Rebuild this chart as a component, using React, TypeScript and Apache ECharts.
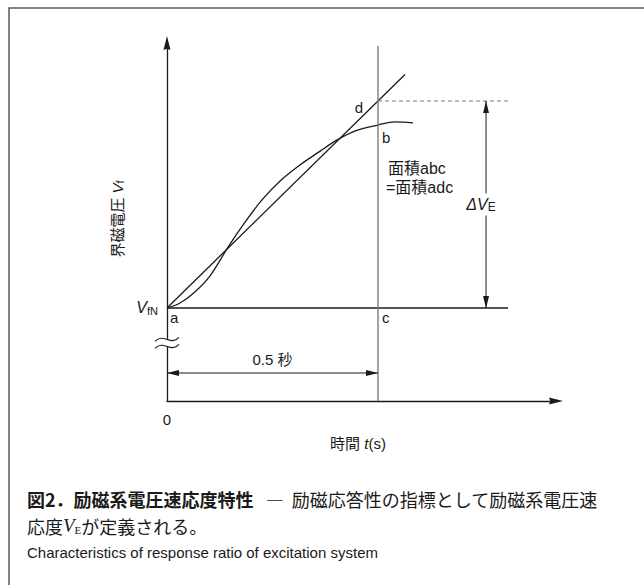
import React, { useEffect, useRef } from "react";
import * as echarts from "echarts";

const W = 644;
const H = 585;

// ---- values (t in s, Vf in per unit of the rated field voltage) ----
const T_RESPONSE = 0.5;
const V_FN = 1.0;
const DELTA_VE = 1.0;

// actual field-voltage response after a step command
const RESPONSE_T = [0, 0.031, 0.066, 0.102, 0.145, 0.185, 0.225, 0.268, 0.315, 0.363, 0.403, 0.445, 0.5, 0.54, 0.583];
const RESPONSE_V = [1.0, 1.024, 1.077, 1.155, 1.295, 1.415, 1.522, 1.614, 1.691, 1.758, 1.812, 1.855, 1.884, 1.899, 1.894];

// equivalent straight ramp a→d, drawn a little past d
const RAMP_T = [0, 0.564];
const RAMP_V = [1.0, 2.128];

const REF_LINE_END_T = 0.808; // end of the Vf N line and of the dashed level of d
const DIM_T = 0.756; // ΔVE dimension
const DIM_V = 0.686; // 0.5 s dimension
const AXIS_BREAK_V = 0.831;
const MARKER_TOP_V = 2.266;

const X_MAX = 0.9218;
const Y_MIN = 0.5507;
const Y_MAX = 2.2802;

// ---- styles ----
const INK = "#1a1a1a";
const GREY = "#7d7d7d";
const SANS = '"Liberation Sans", Arial, "Noto Sans CJK JP", sans-serif';
const CJK = '"Noto Sans CJK JP", sans-serif';
const SERIF = '"Liberation Serif", "DejaVu Serif", serif';
const ARROW = "path://M4,0 L8,16 L4,14.5 L0,16 Z";

const ctx2d = document.createElement("canvas").getContext("2d") as CanvasRenderingContext2D;
function textWidth(text: string, font: string): number {
  ctx2d.font = font;
  return ctx2d.measureText(text).width;
}

function txt(x: number, y: number, text: string, font: string, align = "left", fill = INK): any {
  return {
    type: "text",
    x,
    y,
    z: 100,
    style: {
      text,
      font,
      fill,
      align,
      verticalAlign: "middle",
      textAlign: align,
      textVerticalAlign: "middle",
    },
  };
}

// a run of text pieces laid out left to right; dy shifts a piece down (subscripts)
type Piece = { text: string; font: string; dy?: number };
function run(x: number, y: number, pieces: Piece[], align: "left" | "right" | "center" = "left"): any[] {
  const widths = pieces.map((p) => textWidth(p.text, p.font));
  const total = widths.reduce((a, b) => a + b, 0);
  let cx = align === "left" ? x : align === "right" ? x - total : x - total / 2;
  const out: any[] = [];
  pieces.forEach((p, i) => {
    out.push(txt(cx, y + (p.dy || 0), p.text, p.font));
    cx += widths[i];
  });
  return out;
}

function dimArrow(from: number[], to: number[], rotFrom: number, rotTo: number, offFrom: number[], offTo: number[]) {
  return {
    type: "line",
    data: [
      { value: from, symbolRotate: rotFrom, symbolOffset: offFrom },
      { value: to, symbolRotate: rotTo, symbolOffset: offTo },
    ],
    symbol: "triangle",
    symbolSize: [6, 12],
    showSymbol: true,
    clip: false,
    silent: true,
    lineStyle: { color: INK, width: 1 },
    itemStyle: { color: INK },
  };
}

export default function App() {
  const ref = useRef<HTMLDivElement>(null);

  useEffect(() => {
    const chart = echarts.init(ref.current as HTMLDivElement, null, { renderer: "svg" });
    const axisLine = {
      show: true,
      onZero: false,
      symbol: ["none", ARROW],
      symbolSize: [7, 15],
      lineStyle: { color: INK, width: 1.3 },
    };
    const plain = { type: "line", symbol: "none", silent: true, clip: false };

    chart.setOption({
      animation: false,
      backgroundColor: "#fff",
      grid: { left: 167, right: 88, top: 43, bottom: 184 },
      xAxis: {
        type: "value",
        min: 0,
        max: X_MAX,
        axisLine,
        axisTick: { show: false },
        axisLabel: { show: false },
        splitLine: { show: false },
      },
      yAxis: {
        type: "value",
        min: Y_MIN,
        max: Y_MAX,
        axisLine,
        axisTick: { show: false },
        axisLabel: { show: false },
        splitLine: { show: false },
      },
      series: [
        {
          ...plain,
          name: "response",
          smooth: 0.35,
          data: RESPONSE_T.map((t, i) => [t, RESPONSE_V[i]]),
          lineStyle: { color: INK, width: 1.3 },
        },
        {
          ...plain,
          name: "ramp",
          data: RAMP_T.map((t, i) => [t, RAMP_V[i]]),
          lineStyle: { color: INK, width: 1.3 },
        },
        {
          ...plain,
          name: "VfN",
          data: [[0, V_FN], [REF_LINE_END_T, V_FN]],
          lineStyle: { color: INK, width: 1.3 },
        },
        {
          ...plain,
          name: "t05",
          data: [[T_RESPONSE, Y_MIN], [T_RESPONSE, MARKER_TOP_V]],
          lineStyle: { color: GREY, width: 1.4 },
        },
        {
          ...plain,
          name: "dLevel",
          data: [[T_RESPONSE, V_FN + DELTA_VE], [REF_LINE_END_T, V_FN + DELTA_VE]],
          lineStyle: { color: GREY, width: 1.1, type: [4, 3] },
        },
        dimArrow([0, DIM_V], [T_RESPONSE, DIM_V], 90, -90, [6, 0], [-6, 0]),
        dimArrow([DIM_T, V_FN], [DIM_T, V_FN + DELTA_VE], 180, 0, [0, -6], [0, 6]),
      ],
    });

    const p = (t: number, v: number) => chart.convertToPixel({ gridIndex: 0 }, [t, v]) as number[];
    const A = p(0, V_FN);
    const C = p(T_RESPONSE, V_FN);
    const D = p(T_RESPONSE, V_FN + DELTA_VE);
    const B = p(T_RESPONSE, RESPONSE_V[RESPONSE_T.indexOf(T_RESPONSE)]);
    const O = p(0, Y_MIN);
    const dimMid = p(DIM_T, V_FN + DELTA_VE / 2);
    const spanMid = p(T_RESPONSE / 2, DIM_V);
    const brk = p(0, AXIS_BREAK_V);

    const f15 = `15px ${SANS}`;
    const f16 = `16px ${SANS}`;
    const i15 = `italic 15px ${SANS}`;
    const i16 = `italic 16px ${SANS}`;
    const s11 = `11px ${SANS}`;
    const elements: any[] = [];

    // frame of the figure
    elements.push({
      type: "rect",
      z: 1,
      shape: { x: 9, y: 8, width: 720, height: 720 },
      style: { fill: "none", stroke: "#5a5a5a", lineWidth: 1.5 },
    });

    // point letters
    elements.push(txt(A[0] + 3, A[1] + 10, "a", f15));
    elements.push(txt(C[0] + 4, C[1] + 10, "c", f15));
    elements.push(txt(B[0] + 4, B[1] + 12, "b", f15));
    elements.push(txt(D[0] - 15, D[1] + 6, "d", f15, "right"));
    elements.push(...run(A[0] - 9, A[1], [
      { text: "V", font: i16 },
      { text: "fN", font: s11, dy: 3 },
    ], "right"));

    // area note
    elements.push(txt(C[0] + 10, D[1] + 67, "面積abc", f16));
    elements.push(txt(C[0] + 8, D[1] + 86, "=面積adc", f16));

    // ΔVE label over its dimension line
    elements.push({
      type: "rect",
      z: 99,
      shape: { x: dimMid[0] - 3, y: dimMid[1] - 11, width: 6, height: 22 },
      style: { fill: "#fff" },
    });
    elements.push(...run(dimMid[0] - 5, dimMid[1], [
      { text: "ΔV", font: i16 },
      { text: "E", font: `12px ${SANS}`, dy: 3 },
    ], "center"));

    // 0.5 s span
    elements.push(txt(spanMid[0], spanMid[1] - 13, "0.5 秒", f15, "center"));

    // axis break
    elements.push({
      type: "rect",
      z: 99,
      shape: { x: brk[0] - 2, y: brk[1] - 3, width: 4, height: 6 },
      style: { fill: "#fff" },
    });
    [-3.5, 3.5].forEach((dy) => {
      const y = brk[1] + dy;
      elements.push({
        type: "bezierCurve",
        z: 100,
        shape: {
          x1: brk[0] - 12, y1: y + 2,
          cpx1: brk[0] - 4, cpy1: y - 7,
          cpx2: brk[0] + 4, cpy2: y + 7,
          x2: brk[0] + 12, y2: y - 2,
        },
        style: { stroke: INK, lineWidth: 1.1, fill: "none" },
      });
    });

    // origin and axis titles
    elements.push(txt(O[0], O[1] + 18, "0", f15, "center"));
    elements.push(...run(358, 443, [
      { text: "時間 ", font: f15 },
      { text: "t", font: i15 },
      { text: "(s)", font: f15 },
    ], "center"));

    const yTitle = [
      { text: "界磁電圧 ", font: f15 } as Piece,
      { text: "V", font: i15 } as Piece,
      { text: "f", font: s11, dy: 3 } as Piece,
    ];
    elements.push({
      type: "group",
      x: 117,
      y: 219,
      rotation: Math.PI / 2,
      children: run(0, 0, yTitle, "center"),
    });

    // caption
    const capBold = `bold 18px ${CJK}`;
    const capReg = `18px ${CJK}`;
    const head = "図2．励磁系電圧速応度特性";
    elements.push(txt(27, 499, head, capBold));
    elements.push(txt(27 + textWidth(head, capBold) + 4, 499, "  ―  励磁応答性の指標として励磁系電圧速", capReg));
    elements.push(...run(27, 525.5, [
      { text: "応度", font: capReg },
      { text: "V", font: `italic 19px ${SERIF}` },
      { text: "E", font: `11px ${SERIF}`, dy: 4 },
      { text: "が定義される。", font: capReg },
    ]));
    elements.push(txt(27, 552, "Characteristics of response ratio of excitation system", `15px ${SANS}`));

    chart.setOption({ graphic: { elements } });

    return () => chart.dispose();
  }, []);

  return (
    <div
      ref={ref}
      style={{ position: "absolute", left: 0, top: 0, width: W, height: H }}
    />
  );
}
